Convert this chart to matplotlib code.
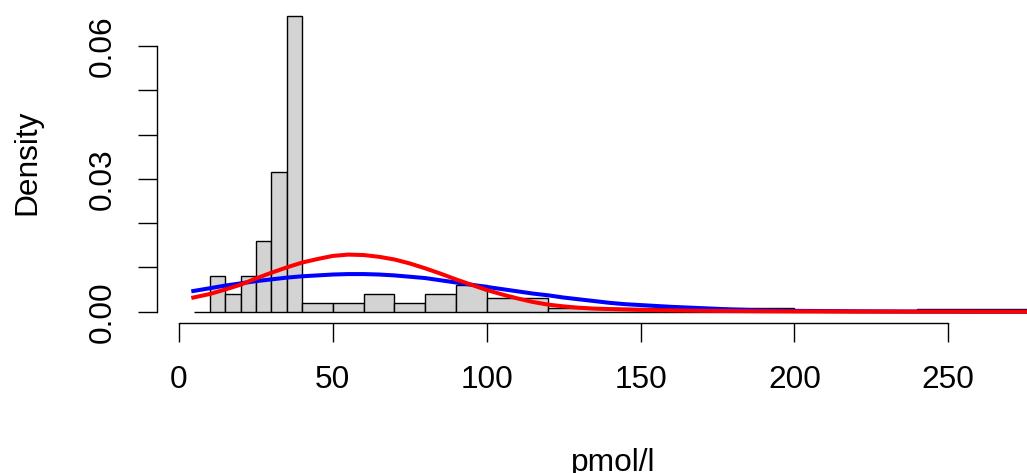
import numpy as np
import matplotlib
matplotlib.use("Agg")
import matplotlib.pyplot as plt

plt.rcParams['font.family'] = ['Liberation Sans', 'DejaVu Sans']

# histogram (density scale), bin breaks and heights
breaks = [5, 10, 15, 20, 25, 30, 35, 40, 50, 60, 70, 80, 90, 100, 120, 200, 240, 280]
density = [0.0, 0.008, 0.004, 0.008, 0.016, 0.0316, 0.0668, 0.002, 0.002, 0.004,
           0.002, 0.004, 0.006, 0.003, 0.0009, 0.0, 0.0007]

# fitted curves
curve_x = [4, 10, 15, 20, 25, 30, 35, 40, 45, 50, 55, 60, 65, 70, 75, 80, 85, 90,
           95, 100, 105, 110, 115, 120, 125, 130, 135, 140, 145, 150, 160, 170,
           180, 190, 200, 220, 240, 260, 280]
blue_y = [0.0046, 0.0053, 0.0059, 0.0064, 0.0069, 0.0073, 0.0077, 0.0080, 0.0082,
          0.0084, 0.0085, 0.0085, 0.0084, 0.0082, 0.0079, 0.0076, 0.0071, 0.0066,
          0.0061, 0.0056, 0.0051, 0.0046, 0.0041, 0.0037, 0.0032, 0.0028, 0.0024,
          0.0020, 0.0017, 0.0015, 0.0011, 0.0008, 0.0005, 0.0003, 0.0002, 0.0001,
          0.00004, 0.00001, 0.0]
red_y = [0.0031, 0.0040, 0.0050, 0.0061, 0.0075, 0.0088, 0.0100, 0.0111, 0.0119,
         0.0126, 0.0129, 0.0128, 0.0124, 0.0118, 0.0109, 0.0098, 0.0086, 0.0073,
         0.0061, 0.0049, 0.0039, 0.0030, 0.0022, 0.0016, 0.0012, 0.0009, 0.0007,
         0.0006, 0.0005, 0.0004, 0.0003, 0.0002, 0.00015, 0.0001, 0.00007, 0.00003,
         0.00001, 0.0, 0.0]

xticks = [0, 50, 100, 150, 200, 250]
yticks = [0.0, 0.01, 0.02, 0.03, 0.04, 0.05, 0.06]
ylabels = ["0.00", "", "", "0.03", "", "", "0.06"]

W, H = 1027, 473
fig = plt.figure(figsize=(W / 100, H / 100), dpi=100)
ax = fig.add_axes([156.7 / W, 1 - 323 / H, 1 - 156.7 / W, 323 / H])

lefts = breaks[:-1]
widths = np.diff(breaks)
ax.bar(lefts, density, width=widths, align='edge', color='#D3D3D3',
       edgecolor='black', linewidth=1.0, zorder=2)
ax.plot(curve_x, blue_y, color='#0000FF', lw=2.9, zorder=3, solid_capstyle='butt')
ax.plot(curve_x, red_y, color='#FF0000', lw=2.9, zorder=4, solid_capstyle='butt')

ax.set_xlim(-7.25, 275.6)
ax.set_ylim(-0.00255, 0.0704)

for s in ['top', 'right']:
    ax.spines[s].set_visible(False)
ax.spines['left'].set_bounds(0, 0.06)
ax.spines['bottom'].set_bounds(0, 250)
ax.spines['left'].set_linewidth(1.0)
ax.spines['bottom'].set_linewidth(1.0)

ax.set_xticks(xticks)
ax.set_xticklabels([str(t) for t in xticks])
ax.set_yticks(yticks)
ax.set_yticklabels(ylabels, rotation=90, va='center')
ax.tick_params(axis='both', direction='out', length=14, width=1.0,
               labelsize=22.8, colors='black')
ax.tick_params(axis='x', pad=16)
ax.tick_params(axis='y', pad=14)

fig.text(35 / W, 1 - 162 / H, "Density", rotation=90, rotation_mode='anchor',
         ha='center', va='baseline', fontsize=22.8)
fig.text(613 / W, 1 - 470.7 / H, "pmol/l", ha='center', va='baseline', fontsize=22.8)

fig.savefig("out.png", dpi=100)
